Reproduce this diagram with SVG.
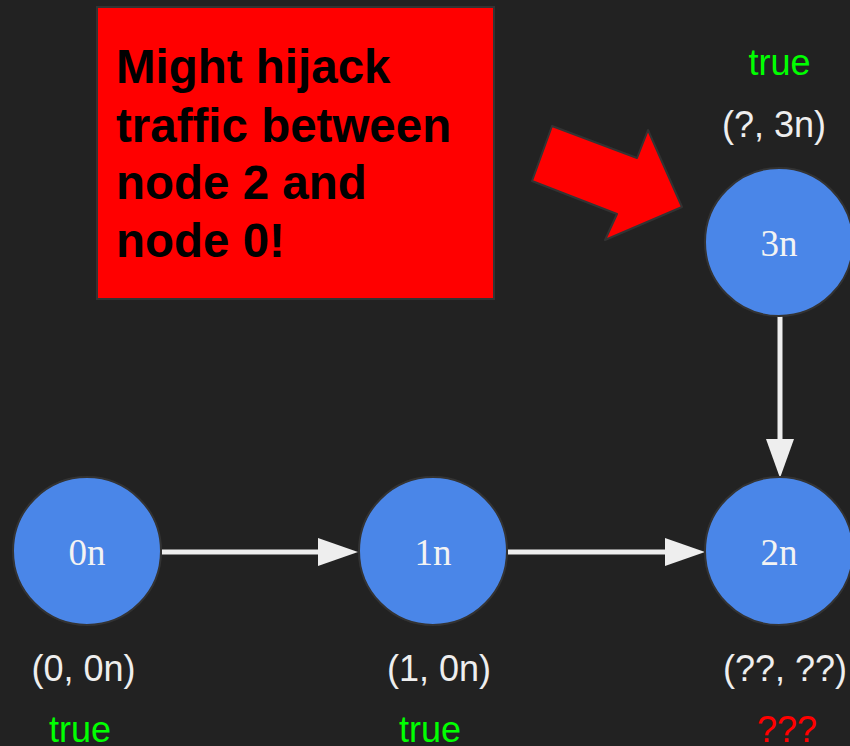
<svg xmlns="http://www.w3.org/2000/svg" width="850" height="746" viewBox="0 0 850 746">
<style>
.node{fill:#4a86e8;stroke:#333333;stroke-width:2}
.nl{font-family:"Liberation Serif",serif;font-size:37px;fill:#f3f3f3;text-anchor:middle}
.lbl{font-family:"Liberation Sans",Arial,sans-serif;font-size:36px;fill:#eeeeee;text-anchor:middle}
.ok{fill:#00ff00}
.bad{fill:#ff0000}
.edge{stroke:#eeeeee;stroke-width:5;fill:none}
.head{fill:#eeeeee}
.note{font-family:"Liberation Sans",Arial,sans-serif;font-size:47.5px;font-weight:bold;fill:#000000}
</style>
<rect width="850" height="746" fill="#222222"/>
<g id="callout">
<rect x="97" y="7" width="397" height="292" fill="#ff0000" stroke="#333333" stroke-width="2"/>
<text class="note" x="116" y="83">Might hijack</text>
<text class="note" x="116" y="142">traffic between</text>
<text class="note" x="116" y="199">node 2 and</text>
<text class="note" x="116" y="257">node 0!</text>
</g>
<g id="pointer">
<polygon points="552,126 637,158 648,130 682,207 605,240 617,214 532,181" fill="#ff0000" stroke="#333333" stroke-width="2" stroke-linejoin="round"/>
</g>
<g id="connectors">
<line class="edge" x1="162" y1="552" x2="320" y2="552"/>
<polygon class="head" points="318,538 358,552 318,566"/>
<line class="edge" x1="508" y1="552" x2="667" y2="552"/>
<polygon class="head" points="665,538 705,552 665,566"/>
<line class="edge" x1="780" y1="316" x2="780" y2="441"/>
<polygon class="head" points="766,439 780,478 794,439"/>
</g>
<g id="node0">
<circle class="node" cx="87" cy="551" r="74"/>
<text class="nl" x="87" y="565">0n</text>
<text class="lbl" x="83.5" y="681">(0, 0n)</text>
<text class="lbl ok" x="80" y="742">true</text>
</g>
<g id="node1">
<circle class="node" cx="433" cy="551" r="74"/>
<text class="nl" x="433" y="565">1n</text>
<text class="lbl" x="439" y="681">(1, 0n)</text>
<text class="lbl ok" x="430" y="742">true</text>
</g>
<g id="node2">
<circle class="node" cx="779" cy="551" r="74"/>
<text class="nl" x="779" y="565">2n</text>
<text class="lbl" x="785" y="681">(??, ??)</text>
<text class="lbl bad" x="787" y="742">???</text>
</g>
<g id="node3">
<circle class="node" cx="779" cy="242" r="74"/>
<text class="nl" x="779" y="256">3n</text>
<text class="lbl" x="774" y="137">(?, 3n)</text>
<text class="lbl ok" x="779.5" y="75">true</text>
</g>
</svg>
